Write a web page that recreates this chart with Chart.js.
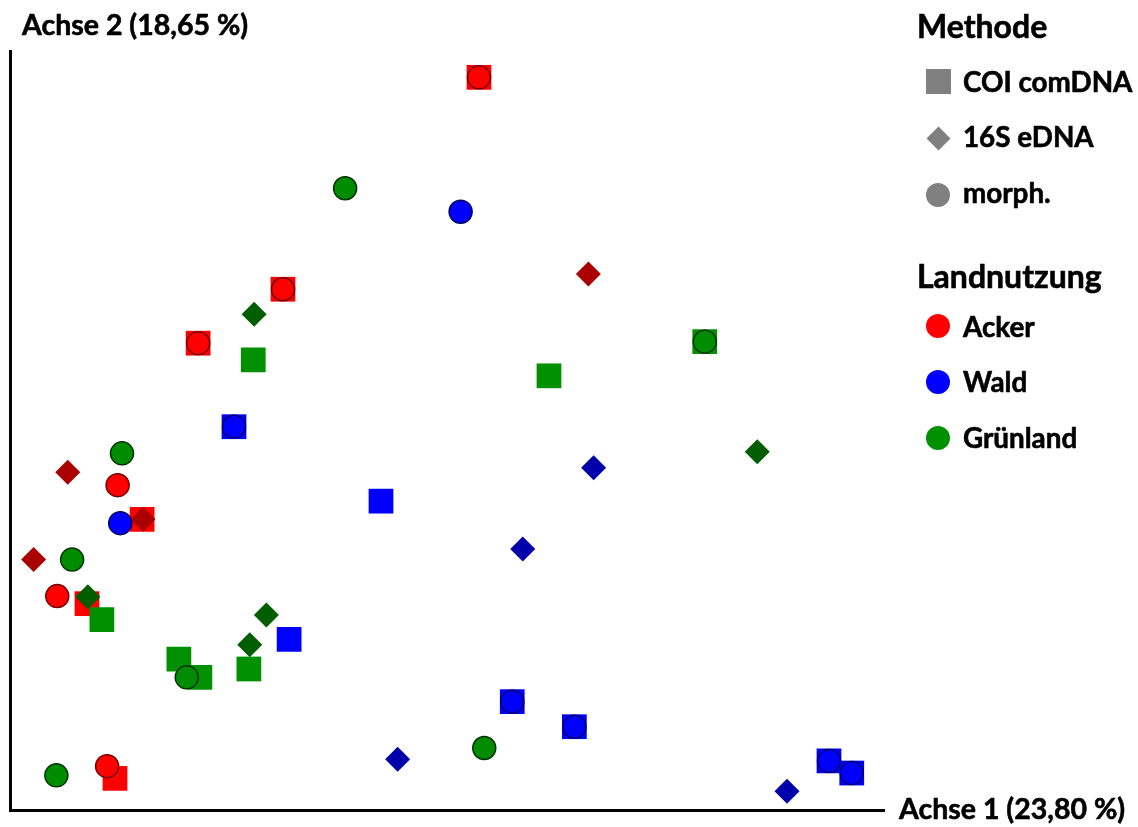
<!DOCTYPE html>
<html lang="de">
<head>
<meta charset="utf-8">
<title>Ordination</title>
<script src="https://cdn.jsdelivr.net/npm/chart.js@4/dist/chart.umd.min.js"></script>
<style>
  html, body { margin: 0; padding: 0; background: #fff; }
  #wrap { position: relative; width: 1138px; height: 827px; overflow: hidden;
          font-family: Lato, "Open Sans", sans-serif; font-weight: 700; color: #000; }
  #wrap canvas { position: absolute; left: 0; top: 0; }
  .lbl { position: absolute; white-space: nowrap; font-size: 28.5px; line-height: 1;
         -webkit-text-stroke: 0.6px #000; }
  .ttl { font-size: 32px; }
  .item { font-size: 27.8px; }
  .mk { position: absolute; }
</style>
</head>
<body>
<div id="wrap">
  <canvas id="c" width="1138" height="827"></canvas>
  <div class="lbl" style="left:22px; top:9.5px;">Achse 2 (18,65 %)</div>
  <div class="lbl" style="left:899px; top:794px;">Achse 1 (23,80 %)</div>

  <div class="lbl ttl" style="left:917px; top:10px;">Methode</div>
  <div class="mk" style="left:926px; top:69px; width:25px; height:25px; background:#808080;"></div>
  <div class="lbl item" style="left:963px; top:67.5px;">COI comDNA</div>
  <div class="mk" style="left:929.5px; top:129.5px; width:17px; height:17px; background:#808080; transform:rotate(45deg);"></div>
  <div class="lbl item" style="left:963px; top:123px;">16S eDNA</div>
  <div class="mk" style="left:926px; top:183px; width:24px; height:24px; border-radius:50%; background:#808080;"></div>
  <div class="lbl item" style="left:963px; top:178.5px;">morph.</div>

  <div class="lbl ttl" style="left:917px; top:260px;">Landnutzung</div>
  <div class="mk" style="left:926px; top:314px; width:24px; height:24px; border-radius:50%; background:#ff0000;"></div>
  <div class="lbl item" style="left:963px; top:313px;">Acker</div>
  <div class="mk" style="left:926px; top:370px; width:24px; height:24px; border-radius:50%; background:#0000ff;"></div>
  <div class="lbl item" style="left:963px; top:368px;">Wald</div>
  <div class="mk" style="left:926px; top:426px; width:24px; height:24px; border-radius:50%; background:#009000;"></div>
  <div class="lbl item" style="left:963px; top:423.5px;">Grünland</div>
</div>
<script>
// Ordination scores (axis 1, axis 2) per land use and method
const ackerCOI   = [[5.36, 9.64], [3.12, 6.85], [2.15, 6.14], [1.51, 3.82], [0.88, 2.71], [1.20, 0.41]];
const ackerEDNA  = [[6.61, 7.05], [0.66, 4.44], [0.27, 3.29], [1.52, 3.82]];
const ackerMorph = [[5.36, 9.64], [3.12, 6.85], [2.15, 6.14], [1.23, 4.27], [0.54, 2.81], [1.11, 0.57]];

const waldCOI    = [[2.56, 5.04], [4.24, 4.06], [3.19, 2.24], [5.74, 1.42], [6.45, 1.09], [9.36, 0.64], [9.62, 0.48]];
const waldEDNA   = [[6.67, 4.50], [5.86, 3.43], [4.43, 0.66], [8.88, 0.24]];
const waldMorph  = [[5.15, 7.87], [1.26, 3.77], [5.74, 1.42], [6.45, 1.09], [9.36, 0.64], [9.62, 0.48], [2.56, 5.04]];

const gruenCOI   = [[2.78, 5.92], [6.16, 5.71], [7.94, 6.16], [1.05, 2.50], [1.93, 1.98], [2.17, 1.74], [2.73, 1.85]];
const gruenEDNA  = [[2.79, 6.52], [8.54, 4.71], [0.89, 2.80], [2.93, 2.56], [2.74, 2.17]];
const gruenMorph = [[3.83, 8.18], [1.28, 4.69], [0.71, 3.29], [2.02, 1.74], [5.42, 0.81], [0.53, 0.45], [7.94, 6.16]];

const axisMin = 0, axisMax = 10;

const toXY = arr => arr.map(([x, y]) => ({ x, y }));

function squares(label, data, color, z) {
  return { label, data: toXY(data), pointStyle: 'rect', pointRadius: 17.5,
           backgroundColor: color, borderWidth: 0, order: z };
}
function diamonds(label, data, color, z) {
  return { label, data: toXY(data), pointStyle: 'rectRot', pointRadius: 12.5,
           backgroundColor: color, borderWidth: 0, order: z };
}
function circles(label, data, color, edge, z) {
  return { label, data: toXY(data), pointStyle: 'circle', pointRadius: 11.5,
           backgroundColor: color, borderColor: edge, borderWidth: 1.5, order: z };
}

// draws the two axis lines along the left and bottom edges of the plot area
const axisLines = {
  id: 'axisLines',
  beforeDatasetsDraw(chart) {
    const { ctx, chartArea: a } = chart;
    ctx.save();
    ctx.strokeStyle = '#000';
    ctx.lineWidth = 3;
    ctx.beginPath();
    ctx.moveTo(a.left + 0.5, a.top);
    ctx.lineTo(a.left + 0.5, a.bottom + 1);
    ctx.lineTo(a.right, a.bottom + 1);
    ctx.stroke();
    ctx.restore();
  }
};

new Chart(document.getElementById('c'), {
  type: 'scatter',
  data: {
    datasets: [
      circles('Acker morph.', ackerMorph, '#ff0000', '#6e0000', 0),
      circles('Wald morph.', waldMorph, '#0000ff', '#000060', 0),
      circles('Grünland morph.', gruenMorph, '#008c00', '#003000', 0),
      diamonds('Acker 16S eDNA', ackerEDNA, '#aa0000', 1),
      diamonds('Wald 16S eDNA', waldEDNA, '#0000aa', 1),
      diamonds('Grünland 16S eDNA', gruenEDNA, '#005e00', 1),
      squares('Grünland COI comDNA', gruenCOI, '#009000', 2),
      squares('Wald COI comDNA', waldCOI, '#0000ff', 3),
      squares('Acker COI comDNA', ackerCOI, '#ff0000', 3)
    ]
  },
  options: {
    responsive: false,
    animation: false,
    events: [],
    layout: { autoPadding: false, padding: { left: 10, top: 50, right: 253, bottom: 17.5 } },
    scales: {
      x: { type: 'linear', min: axisMin, max: axisMax, display: false },
      y: { type: 'linear', min: axisMin, max: axisMax, display: false }
    },
    datasets: { scatter: { clip: false } },
    plugins: { legend: { display: false }, tooltip: { enabled: false } }
  },
  plugins: [axisLines]
});
</script>
</body>
</html>
